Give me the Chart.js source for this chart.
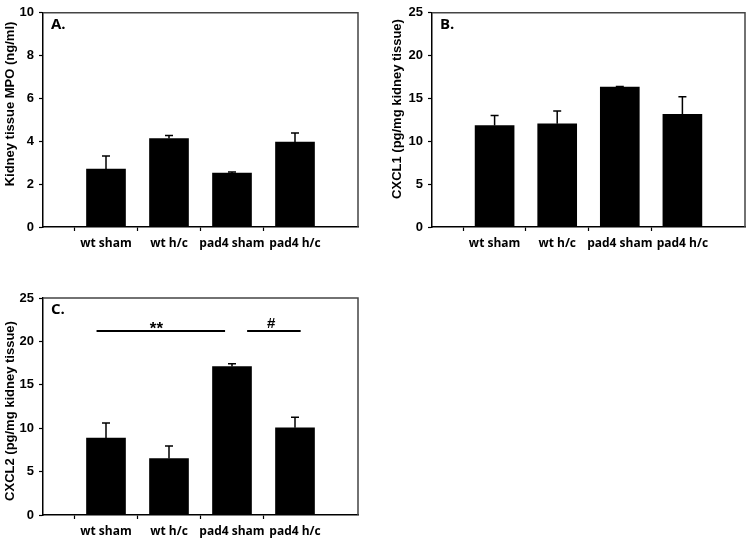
<!DOCTYPE html>
<html>
<head>
<meta charset="utf-8">
<script src="https://cdn.jsdelivr.net/npm/chart.js@4/dist/chart.umd.min.js"></script>
<style>
  html, body { margin: 0; padding: 0; background: #fff; }
  #wrap { position: relative; width: 750px; height: 541px; background: #fff; }
  canvas { position: absolute; }
</style>
</head>
<body>
<div id="wrap">
  <canvas id="cA" width="375" height="260" style="left:0;top:0;width:375px;height:260px"></canvas>
  <canvas id="cB" width="375" height="260" style="left:375px;top:0;width:375px;height:260px"></canvas>
  <canvas id="cC" width="375" height="271" style="left:0;top:270px;width:375px;height:271px"></canvas>
</div>
<script>
// ---- data ----
const categories = ['wt sham', 'wt h/c', 'pad4 sham', 'pad4 h/c'];

const mpoMeans  = [2.70, 4.13, 2.52, 3.96];
const mpoErrors = [0.62, 0.14, 0.05, 0.43];

const cxcl1Means  = [11.85, 12.04, 16.34, 13.15];
const cxcl1Errors = [1.15, 1.49, 0.06, 2.04];

const cxcl2Means  = [8.85, 6.50, 17.10, 10.04];
const cxcl2Errors = [1.75, 1.46, 0.32, 1.23];

const ticksA = [0, 2, 4, 6, 8, 10];
const ticksBC = [0, 5, 10, 15, 20, 25];

// significance bars for panel C (x in category index units, y in data units)
const sigFrom  = [0.85, 3.24];
const sigTo    = [2.89, 4.09];
const sigY     = [21.2, 21.2];
const sigText  = ['**', '#'];
const sigTextX = [1.80, 3.62];

// ---- helpers ----
const labels = [''].concat(categories, ['']);
const pad = arr => [null].concat(arr, [null]);

const errorBarPlugin = {
  id: 'errorBars',
  afterDatasetsDraw(chart, args, opts) {
    const { ctx, scales: { x, y } } = chart;
    const means = opts.means, errs = opts.errors;
    ctx.save();
    ctx.strokeStyle = '#000';
    ctx.lineWidth = 1.5;
    for (let i = 0; i < means.length; i++) {
      const px = x.getPixelForValue(i + 1);
      const y0 = y.getPixelForValue(means[i]);
      const y1 = y.getPixelForValue(means[i] + errs[i]);
      ctx.beginPath();
      ctx.moveTo(px, y0);
      ctx.lineTo(px, y1);
      ctx.moveTo(px - 4, y1);
      ctx.lineTo(px + 4, y1);
      ctx.stroke();
    }
    ctx.restore();
  }
};

const framePlugin = {
  id: 'frame',
  afterDraw(chart, args, opts) {
    const { ctx, chartArea: a } = chart;
    ctx.save();
    ctx.strokeStyle = '#444';
    ctx.lineWidth = 1.5;
    ctx.beginPath();
    ctx.moveTo(a.left, a.top);
    ctx.lineTo(a.right, a.top);
    ctx.lineTo(a.right, a.bottom);
    ctx.stroke();
    // panel letter
    ctx.fillStyle = '#000';
    ctx.font = 'bold 15px "Open Sans"';
    ctx.textAlign = 'left';
    ctx.textBaseline = 'middle';
    ctx.fillText(opts.letter, a.left + 8, a.top + 12);
    // y axis title
    ctx.font = 'bold 13px "Liberation Sans"';
    ctx.textAlign = 'center';
    ctx.translate(opts.titleX, opts.titleY);
    ctx.rotate(-Math.PI / 2);
    ctx.fillText(opts.title, 0, 0);
    ctx.restore();
  }
};

const sigPlugin = {
  id: 'sig',
  afterDraw(chart, args, opts) {
    if (!opts.enabled) return;
    const { ctx, scales: { x, y } } = chart;
    ctx.save();
    ctx.strokeStyle = '#000';
    ctx.fillStyle = '#000';
    ctx.lineWidth = 2;
    ctx.textAlign = 'center';
    ctx.textBaseline = 'alphabetic';
    for (let i = 0; i < sigFrom.length; i++) {
      const py = y.getPixelForValue(sigY[i]);
      ctx.beginPath();
      ctx.moveTo(x.getPixelForValue(sigFrom[i]), py);
      ctx.lineTo(x.getPixelForValue(sigTo[i]), py);
      ctx.stroke();
      ctx.font = i === 0 ? 'bold 17px "Liberation Sans"' : 'bold 15px "Liberation Sans"';
      ctx.fillText(sigText[i], x.getPixelForValue(sigTextX[i]), i === 0 ? py + 3 : py - 3);
    }
    ctx.restore();
  }
};

function makeChart(id, cfg) {
  return new Chart(document.getElementById(id), {
    type: 'bar',
    data: {
      labels: labels,
      datasets: [{
        data: pad(cfg.means),
        backgroundColor: '#000',
        borderWidth: 0,
        barThickness: 39
      }]
    },
    options: {
      responsive: false,
      animation: false,
      devicePixelRatio: 1,
      layout: { padding: { top: cfg.padTop, right: cfg.padRight, left: 0, bottom: 0 } },
      plugins: {
        legend: { display: false },
        tooltip: { enabled: false },
        errorBars: { means: cfg.means, errors: cfg.errors },
        frame: { letter: cfg.letter, title: cfg.title, titleX: cfg.titleX, titleY: cfg.titleY },
        sig: { enabled: !!cfg.sig }
      },
      scales: {
        x: {
          type: 'category',
          offset: false,
          afterFit: s => { s.height = cfg.xHeight; },
          border: { color: '#000', width: 1.5 },
          grid: {
            drawOnChartArea: false,
            drawTicks: true,
            tickLength: 4,
            tickWidth: 1.2,
            tickColor: c => (c.index === 0 || c.index === labels.length - 1) ? 'rgba(0,0,0,0)' : '#000'
          },
          ticks: {
            color: '#000',
            padding: 5,
            maxRotation: 0,
            autoSkip: false,
            font: { family: '"Open Sans"', size: 12, weight: 'bold' }
          }
        },
        y: {
          min: 0,
          max: cfg.ticks[cfg.ticks.length - 1],
          afterFit: s => { s.width = cfg.yWidth; },
          afterBuildTicks: s => { s.ticks = cfg.ticks.map(v => ({ value: v })); },
          border: { color: '#000', width: 1.5 },
          grid: {
            drawOnChartArea: false,
            drawTicks: true,
            tickLength: 4,
            tickWidth: 1.2,
            tickColor: '#000'
          },
          ticks: {
            color: '#000',
            padding: 5,
            font: { family: '"Liberation Sans"', size: 13, weight: 'bold' }
          },
          title: { display: false }
        }
      }
    },
    plugins: [errorBarPlugin, framePlugin, sigPlugin]
  });
}

makeChart('cA', {
  means: mpoMeans, errors: mpoErrors, ticks: ticksA, letter: 'A.',
  title: 'Kidney tissue MPO (ng/ml)', titleX: 10, titleY: 104,
  padTop: 10, padRight: 17, yWidth: 43, xHeight: 33
});
makeChart('cB', {
  means: cxcl1Means, errors: cxcl1Errors, ticks: ticksBC, letter: 'B.',
  title: 'CXCL1 (pg/mg kidney tissue)', titleX: 22, titleY: 109,
  padTop: 10, padRight: 3, yWidth: 57, xHeight: 33
});
makeChart('cC', {
  means: cxcl2Means, errors: cxcl2Errors, ticks: ticksBC, letter: 'C.',
  title: 'CXCL2 (pg/mg kidney tissue)', titleX: 10, titleY: 141,
  padTop: 28, padRight: 17, yWidth: 43, xHeight: 26, sig: true
});
</script>
</body>
</html>
